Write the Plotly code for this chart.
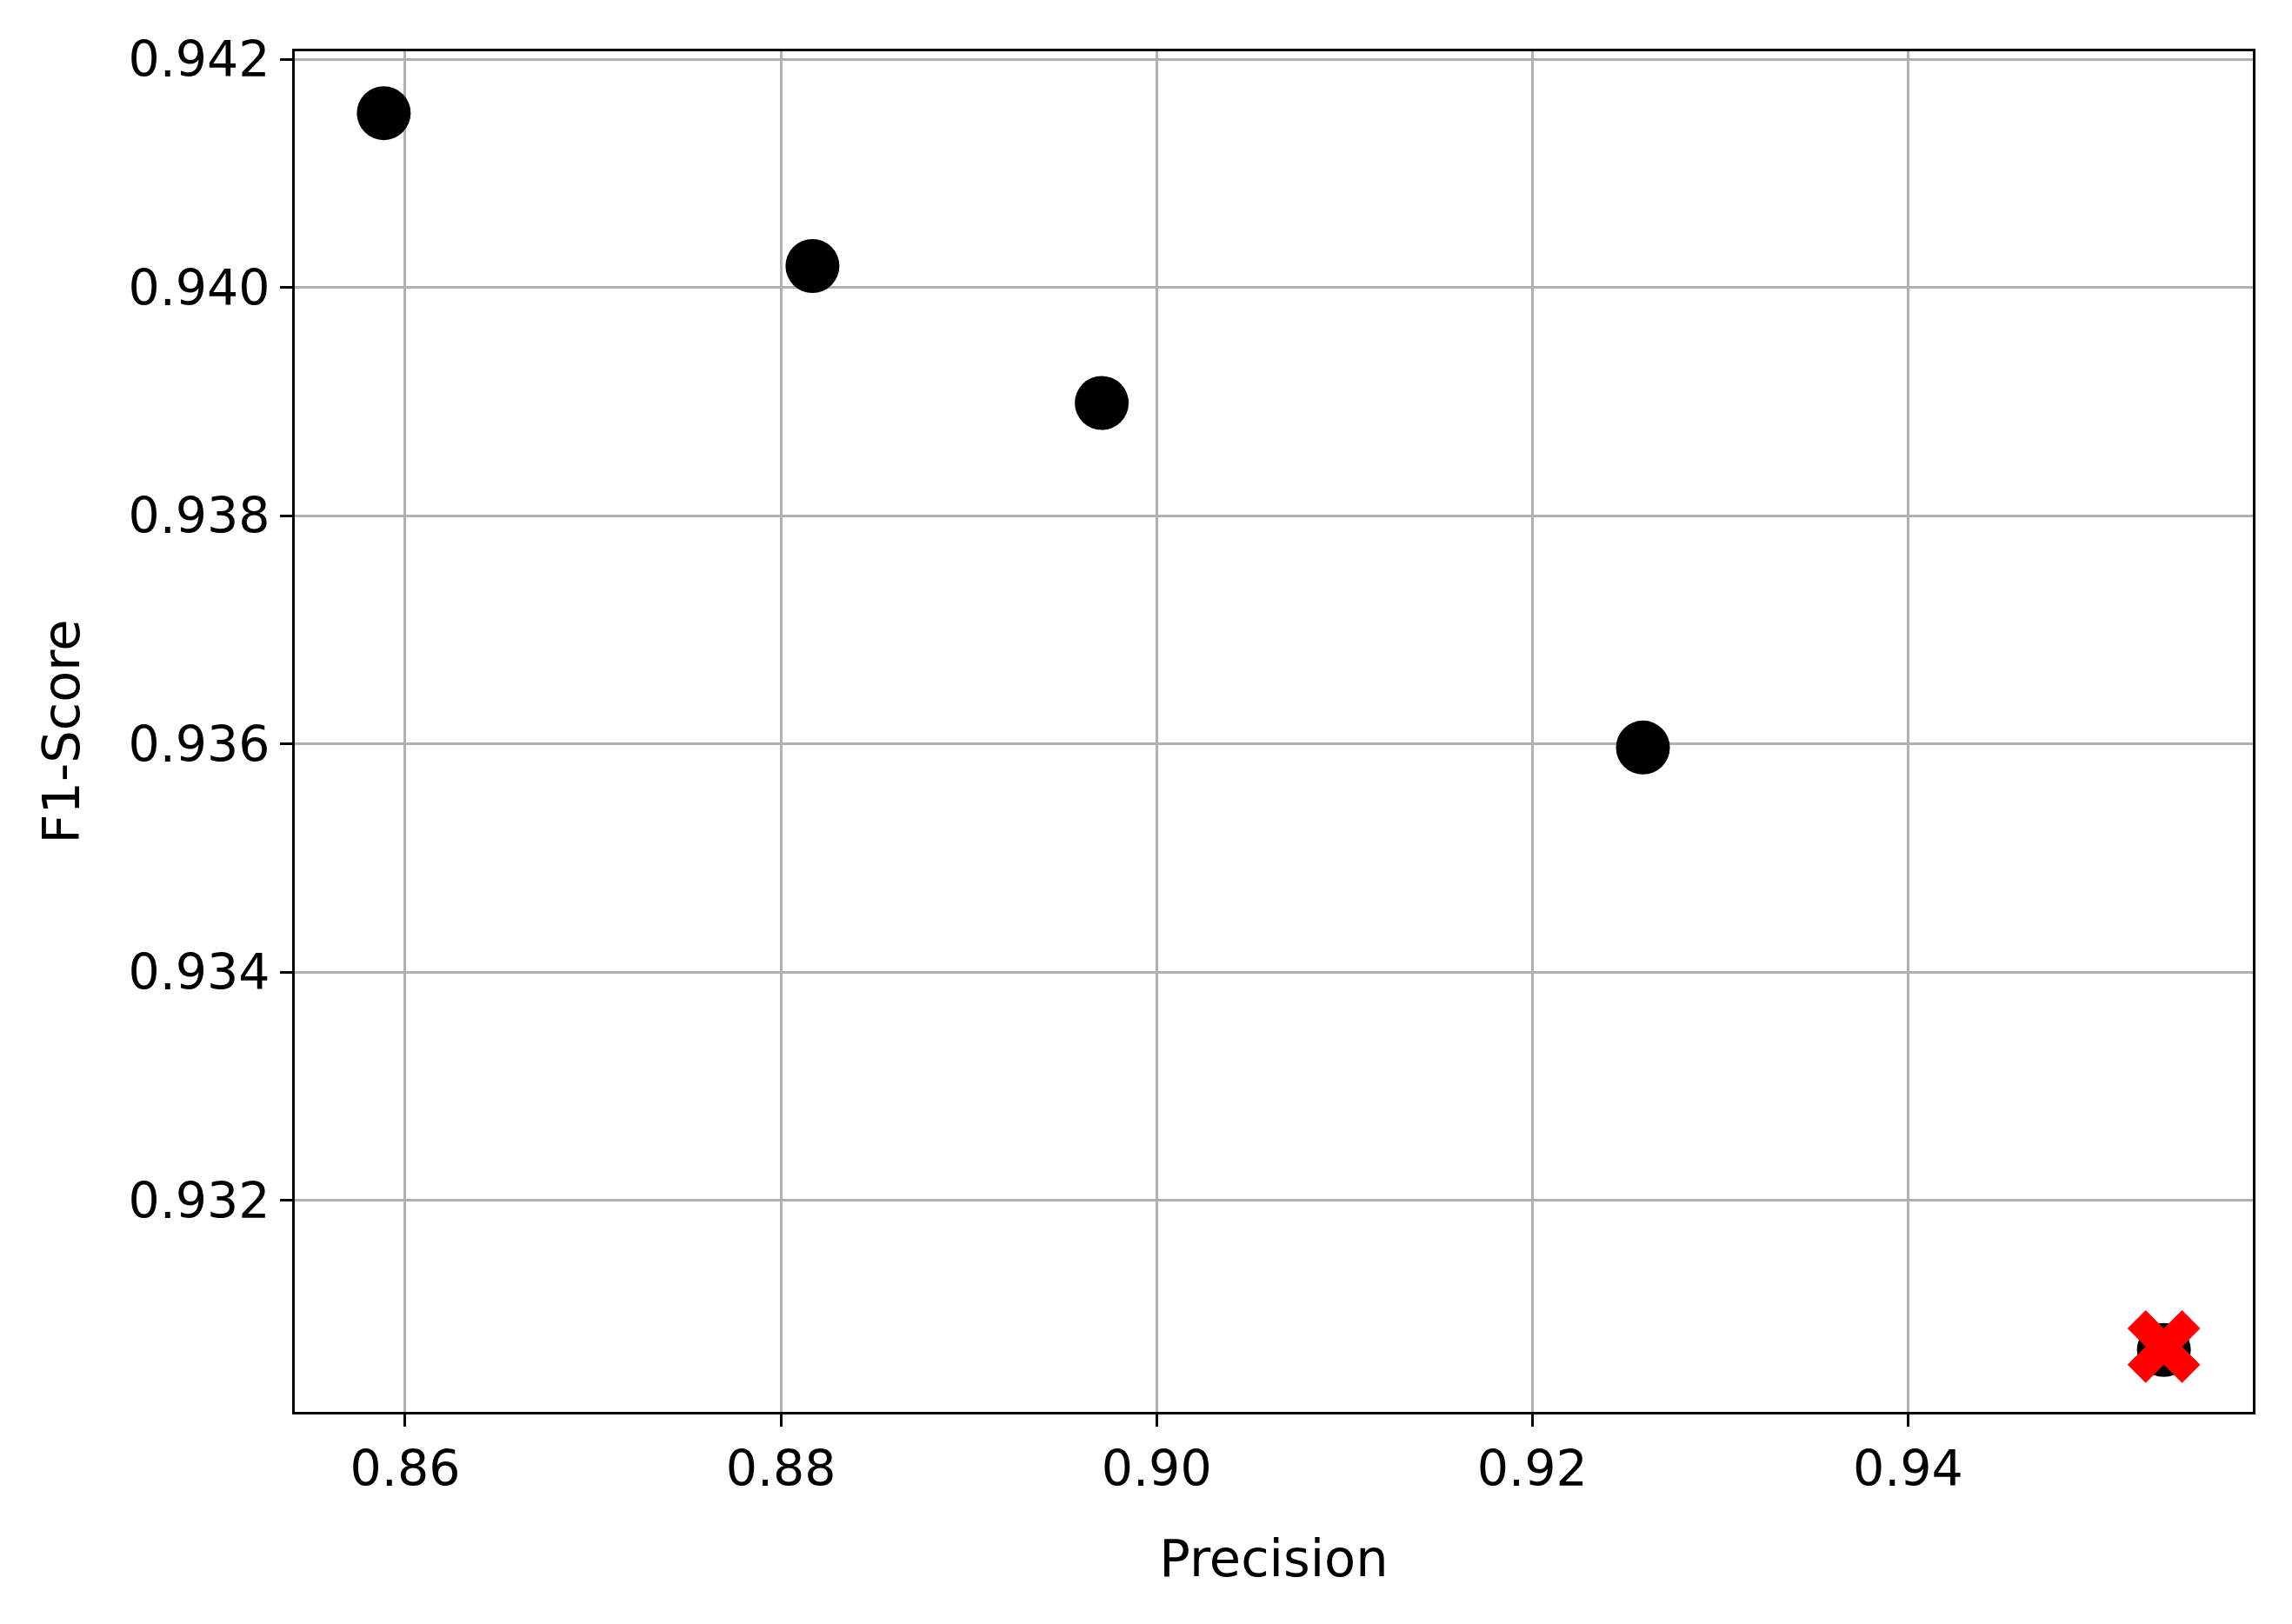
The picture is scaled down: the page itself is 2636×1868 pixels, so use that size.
import plotly.graph_objects as go

precision = [0.85886, 0.88168, 0.89708, 0.92589, 0.95362]
f1_score = [0.94153, 0.94019, 0.93899, 0.93597, 0.93069]
best_precision = [0.95362]
best_f1 = [0.93072]

x_ticks = [0.86, 0.88, 0.90, 0.92, 0.94]
x_tick_labels = ["0.86", "0.88", "0.90", "0.92", "0.94"]
y_ticks = [0.932, 0.934, 0.936, 0.938, 0.940, 0.942]
y_tick_labels = ["0.932", "0.934", "0.936", "0.938", "0.940", "0.942"]

FONT = "DejaVu Sans"

fig = go.Figure()
fig.add_trace(go.Scatter(
    x=precision, y=f1_score, mode="markers",
    marker=dict(color="black", size=62, line=dict(width=0)),
    showlegend=False, hoverinfo="skip",
))
fig.add_trace(go.Scatter(
    x=best_precision, y=best_f1, mode="markers",
    marker=dict(color="red", size=74, symbol="x", line=dict(width=0)),
    showlegend=False, hoverinfo="skip",
))

def pad(lo, hi, frac=0.05):
    d = hi - lo
    return [lo - d * frac, hi + d * frac]

fig.update_layout(
    width=2620, height=1852,
    margin=dict(l=331, r=37, t=51, b=236, autoexpand=False),
    paper_bgcolor="white", plot_bgcolor="white",
    font=dict(family=FONT, size=58, color="black"),
)
fig.update_xaxes(
    range=pad(min(precision), max(precision)),
    tickvals=x_ticks, ticktext=x_tick_labels,
    showgrid=True, gridcolor="#b0b0b0", gridwidth=3,
    showline=True, linecolor="black", linewidth=3, mirror=True,
    ticks="outside", ticklen=14, tickwidth=3, tickcolor="black",
    zeroline=False,
    tickfont=dict(family=FONT, size=57, color="black"),
    title=dict(text="Precision", font=dict(family=FONT, size=59, color="black"), standoff=51),
)
fig.update_yaxes(
    range=pad(min(f1_score), max(f1_score)),
    tickvals=y_ticks, ticktext=y_tick_labels,
    showgrid=True, gridcolor="#b0b0b0", gridwidth=3,
    showline=True, linecolor="black", linewidth=3, mirror=True,
    ticks="outside", ticklen=14, tickwidth=3, tickcolor="black",
    zeroline=False,
    tickfont=dict(family=FONT, size=57, color="black"),
    title=dict(text="F1-Score", font=dict(family=FONT, size=59, color="black"), standoff=37),
)

fig.write_html("out.html")
